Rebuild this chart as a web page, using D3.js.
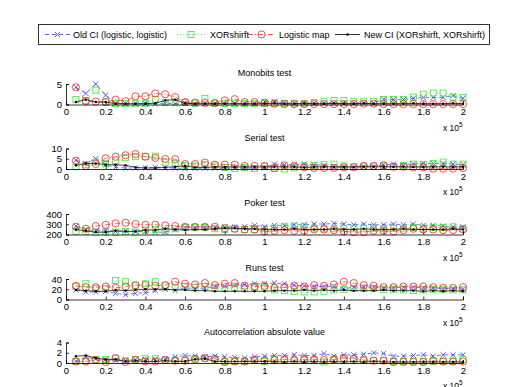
<!DOCTYPE html>
<head>
  <meta charset="utf-8">
  <title>CI tests</title>
  <script src="https://d3js.org/d3.v7.min.js"></script>
</head>
<body style="margin:0;background:#fff">
  <script>
    // sample sizes (x 10^5)
    var xs = d3.range(1, 41).map(function(i) { return i * 0.05; });
    var xTicks = [0, 0.2, 0.4, 0.6, 0.8, 1, 1.2, 1.4, 1.6, 1.8, 2];

    var titles = ['Monobits test', 'Serial test', 'Poker test', 'Runs test', 'Autocorrelation absulote value'];
    var yDomains = [[0, 5], [0, 10], [200, 400], [0, 40], [0, 4]];
    var yTicks = [[0, 5], [0, 5, 10], [200, 300, 400], [0, 20, 40], [0, 2, 4]];

    var monoOld = [4.2,2.7,5.0,2.3,0.3,0.2,0.2,0.2,0.2,0.3,0.2,0.3,0.2,0.2,0.3,0.2,0.2,0.3,0.3,0.7,
                   0.8,0.4,0.3,0.3,0.3,0.3,0.3,0.3,0.3,0.4,0.3,1.3,1.2,1.2,1.5,1.7,1.7,1.7,2.2,1.5];
    var monoXor = [1.2,1.0,3.5,0.6,0.2,0.2,0.3,0.3,1.2,0.5,0.6,0.5,0.3,1.5,0.3,0.2,0.2,0.2,0.2,0.2,
                   0.3,0.3,0.3,0.2,0.5,0.8,1.0,1.0,0.8,0.8,0.8,1.2,1.2,1.2,1.8,2.5,2.8,2.8,1.8,1.7];
    var monoLog = [4.2,0.8,0.7,0.6,1.2,0.8,2.0,2.0,2.7,2.5,1.8,0.6,0.5,0.4,0.4,1.0,1.3,0.6,0.6,0.4,
                   0.2,0.1,0.1,0.1,0.1,0.1,0.1,0.1,0.1,0.2,0.2,0.1,0.1,0.1,0.1,0.1,0.1,0.1,0.1,0.1];
    var monoNew = [0.6,1.2,0.6,0.6,0.2,0.2,0.2,0.2,0.3,1.0,1.2,0.3,0.2,0.2,0.2,0.2,0.2,0.2,0.2,0.2,
                   0.3,0.2,0.2,0.3,0.2,0.2,0.3,0.2,0.2,0.3,0.2,0.2,0.2,0.2,0.3,0.2,0.2,0.2,0.3,0.2];

    var serOld = [4.3,2.7,5.0,2.1,0.8,0.5,0.5,0.5,0.8,0.5,0.5,0.2,0.3,0.5,0.4,0.3,0.5,0.4,0.5,0.6,
                  2.4,2.1,2.1,2.4,2.1,1.8,1.1,0.8,0.8,1.1,1.1,2.1,2.4,1.8,2.4,2.7,2.7,2.7,2.4,2.1];
    var serXor = [1.1,2.1,3.4,2.7,4.0,5.5,6.0,6.0,6.3,3.4,2.7,1.8,1.5,2.1,1.5,0.8,0.2,0.8,0.2,1.1,
                  0.2,0.0,0.5,1.5,1.8,2.1,2.4,1.5,1.1,1.1,1.1,1.5,1.1,1.8,2.4,2.1,2.7,3.4,2.4,2.4];
    var serLog = [4.0,1.5,2.4,5.2,6.0,6.7,7.3,6.0,5.4,4.9,4.8,2.4,2.4,3.1,2.1,2.1,2.1,1.5,1.5,1.5,
                  0.5,1.8,1.5,0.8,0.5,0.5,0.5,0.8,0.8,1.5,1.5,1.8,1.1,1.1,0.8,0.8,0.2,0.2,0.2,0.5];
    var serNew = [1.8,2.7,2.7,2.1,2.1,1.8,0.8,0.5,0.5,0.8,1.1,1.5,0.8,0.8,1.0,1.0,1.0,1.0,1.0,1.0,
                  1.1,1.0,1.0,0.8,1.0,1.1,1.0,1.1,1.0,1.1,1.1,1.1,1.0,1.1,1.0,1.1,1.0,1.1,1.0,1.1];

    var pokOld = [282,249,236,243,230,236,230,230,223,223,249,269,269,275,269,275,275,275,289,275,
                  289,289,295,295,302,302,308,302,295,302,295,295,302,295,302,289,289,282,275,275];
    var pokXor = [230,230,223,223,223,230,223,243,249,243,256,269,269,269,256,249,256,249,249,256,
                  262,275,282,275,262,256,256,256,262,262,262,256,262,262,269,262,269,269,275,256];
    var pokLog = [275,256,282,295,308,315,302,295,295,289,282,275,275,275,275,262,256,249,249,230,
                  236,243,236,236,249,249,243,230,223,223,236,236,230,243,256,249,249,243,243,249];
    var pokNew = [249,236,223,223,236,230,230,243,243,256,249,243,249,249,256,262,262,256,256,249,
                  249,249,256,249,249,249,256,249,249,256,249,249,249,256,249,249,249,249,256,249];

    var runOld = [18.7,14.7,14.7,16,12,9.3,12,13.3,17.3,20,17.3,22.7,21.3,22.7,25.3,26.7,28,29.3,30.7,30.7,
                  32,30.7,28,26.7,25.3,25.3,25.3,21.3,24,24,24,22.7,22.7,24,24,22.7,22.7,21.3,21.3,20];
    var runXor = [25.3,30.7,21.3,21.3,37.3,34.7,26.7,30.7,34.7,26.7,24,25.3,24,25.3,22.7,21.3,22.7,21.3,22.7,24,
                  18.7,17.3,16,14.7,14.7,16,18.7,20,21.3,21.3,21.3,20,20,18.7,17.3,18.7,20,20,18.7,18.7];
    var runLog = [26.7,24,24,25.3,22.7,25.3,28,28,26.7,28,34.7,30.7,29.3,32,28,30.7,32,26.7,25.3,26.7,
                  22.7,24,26.7,25.3,28,26.7,29.3,34.7,32,28,26.7,24,24,25.3,25.3,25.3,24,22.7,22.7,24];
    var runNew = [18.7,17.3,16,16,18.7,17.3,18.7,20,20,20,18.7,18.7,17.3,17.3,16,16,16,16,16,16,
                  17.3,17.3,17.3,18.7,17.3,18.7,17.3,18.7,17.3,17.3,17.3,18.7,17.3,17.3,17.3,16,17.3,16,17.3,16];

    var acOld = [0.32,1.08,0.83,0.7,0.57,0.44,0.7,0.7,0.7,0.83,1.2,1.46,1.33,1.2,1.33,1.2,1.08,0.95,1.2,1.33,
                 1.46,1.46,1.59,1.46,1.46,1.84,1.33,1.59,1.59,1.71,1.97,1.84,1.33,1.33,1.46,1.59,1.33,1.59,1.59,1.59];
    var acXor = [0.3,0.45,0.7,0.7,0.95,0.45,0.7,0.83,0.83,0.57,0.57,0.45,0.7,0.95,0.57,0.3,0.3,0.3,0.45,0.3,
                 0.7,0.45,0.45,0.57,0.45,0.2,0.7,0.45,0.45,0.57,0.45,0.45,0.3,0.3,0.3,0.3,0.3,0.3,0.3,0.7];
    var acLog = [0.3,0.3,0.6,0.2,0.95,0.2,0.6,0.3,0.3,0.6,0.45,0.45,0.83,0.95,0.83,0.2,0.3,0.3,0.6,0.45,
                 0.57,0.7,0.57,0.7,0.7,0.57,0.7,0.95,0.83,0.57,0.45,0.45,0.2,0.2,0.2,0.2,0.45,0.3,0.3,0.3];
    var acNew = [1.33,1.46,0.95,0.7,0.7,0.3,0.45,0.3,0.3,0.45,0.3,0.3,0.7,0.83,0.3,0.3,0.3,0.3,0.3,0.3,
                 0.3,0.2,0.3,0.2,0.3,0.2,0.3,0.2,0.3,0.2,0.3,0.2,0.2,0.2,0.2,0.2,0.2,0.2,0.2,0.2];

    var seriesNames = ['Old CI (logistic, logistic)', 'XORshirft', 'Logistic map', 'New CI (XORshirft, XORshirft)'];
    var panels = [
      [monoOld, monoXor, monoLog, monoNew],
      [serOld, serXor, serLog, serNew],
      [pokOld, pokXor, pokLog, pokNew],
      [runOld, runXor, runLog, runNew],
      [acOld, acXor, acLog, acNew]
    ];

    var width = 512, height = 387;
    var font = 'Liberation Sans, Arial, sans-serif';
    var fs = 9;
    var styles = [
      {color: '#3333ff', dash: '4,3', marker: 'x'},
      {color: '#33ee33', dash: '1,2', marker: 'square'},
      {color: '#ff2222', dash: '5,2,1,2', marker: 'circle'},
      {color: '#000000', dash: null, marker: 'dot'}
    ];
    var tops = [84, 148.5, 214, 279, 342.5];
    var plotH = 20.5;

    var svg = d3.select('body').append('svg').attr('width', width).attr('height', height)
      .style('font-family', font);

    var x = d3.scaleLinear().domain([0, 2]).range([66, 463]);

    function drawMarker(g, type, cx, cy, color) {
      if (type === 'circle') {
        g.append('circle').attr('cx', cx).attr('cy', cy).attr('r', 3.6)
          .attr('fill', 'none').attr('stroke', color).attr('stroke-width', 0.8);
      } else if (type === 'square') {
        g.append('rect').attr('x', cx - 3).attr('y', cy - 3).attr('width', 6).attr('height', 6)
          .attr('fill', 'none').attr('stroke', color).attr('stroke-width', 0.8);
      } else if (type === 'x') {
        g.append('path').attr('d', 'M' + (cx - 2.6) + ',' + (cy - 2.6) + 'L' + (cx + 2.6) + ',' + (cy + 2.6) +
          'M' + (cx - 2.6) + ',' + (cy + 2.6) + 'L' + (cx + 2.6) + ',' + (cy - 2.6))
          .attr('stroke', color).attr('stroke-width', 0.8);
      } else {
        g.append('circle').attr('cx', cx).attr('cy', cy).attr('r', 1.2).attr('fill', color);
      }
    }

    panels.forEach(function(series, p) {
      var y = d3.scaleLinear().domain(yDomains[p]).range([tops[p] + plotH, tops[p]]);
      var g = svg.append('g');

      // series
      series.forEach(function(vals, s) {
        var st = styles[s];
        var line = d3.line().x(function(d, i) { return x(xs[i]); }).y(function(d) { return y(d); });
        g.append('path').datum(vals).attr('d', line).attr('fill', 'none')
          .attr('stroke', st.color).attr('stroke-width', 0.7)
          .attr('stroke-dasharray', st.dash);
        vals.forEach(function(v, i) { drawMarker(g, st.marker, x(xs[i]), y(v), st.color); });
      });

      // axes
      var axisX = d3.axisBottom(x).tickValues(xTicks).tickSize(-3).tickPadding(4)
        .tickFormat(d3.format('~g'));
      var ax = g.append('g').attr('transform', 'translate(0,' + (tops[p] + plotH) + ')').call(axisX);
      var axisY = d3.axisLeft(y).tickValues(yTicks[p]).tickSize(-3).tickPadding(4)
        .tickFormat(d3.format('~g'));
      var ay = g.append('g').attr('transform', 'translate(66,0)').call(axisY);
      [ax, ay].forEach(function(a) {
        a.select('.domain').attr('stroke', '#000').attr('stroke-width', 0.8);
        a.selectAll('.tick line').attr('stroke', '#000').attr('stroke-width', 0.8);
        a.selectAll('text').attr('font-size', fs + 0.5).attr('font-family', font).attr('fill', '#000');
      });

      g.append('text').attr('x', (x.range()[0] + x.range()[1]) / 2).attr('y', tops[p] - 8)
        .attr('text-anchor', 'middle').attr('font-size', fs).text(titles[p]);

      var xl = g.append('text').attr('x', 443).attr('y', tops[p] + plotH + 26).attr('font-size', 8.5);
      xl.append('tspan').text('x 10');
      xl.append('tspan').attr('font-size', 6.5).attr('dy', -4).text('5');
    });

    // legend
    var lg = svg.append('g');
    lg.append('rect').attr('x', 38.5).attr('y', 24.5).attr('width', 451).attr('height', 20)
      .attr('fill', '#fff').attr('stroke', '#000').attr('stroke-width', 0.8);
    var legX = [[45, 70, 73], [177, 205, 210], [248, 275, 279], [335, 360, 364]];
    seriesNames.forEach(function(name, s) {
      var st = styles[s], lx = legX[s];
      lg.append('line').attr('x1', lx[0]).attr('x2', lx[1]).attr('y1', 34.5).attr('y2', 34.5)
        .attr('stroke', st.color).attr('stroke-width', 0.8).attr('stroke-dasharray', st.dash);
      drawMarker(lg, st.marker, (lx[0] + lx[1]) / 2, 34.5, st.color);
      lg.append('text').attr('x', lx[2]).attr('y', 38).attr('font-size', fs).text(name);
    });
  </script>
</body>
